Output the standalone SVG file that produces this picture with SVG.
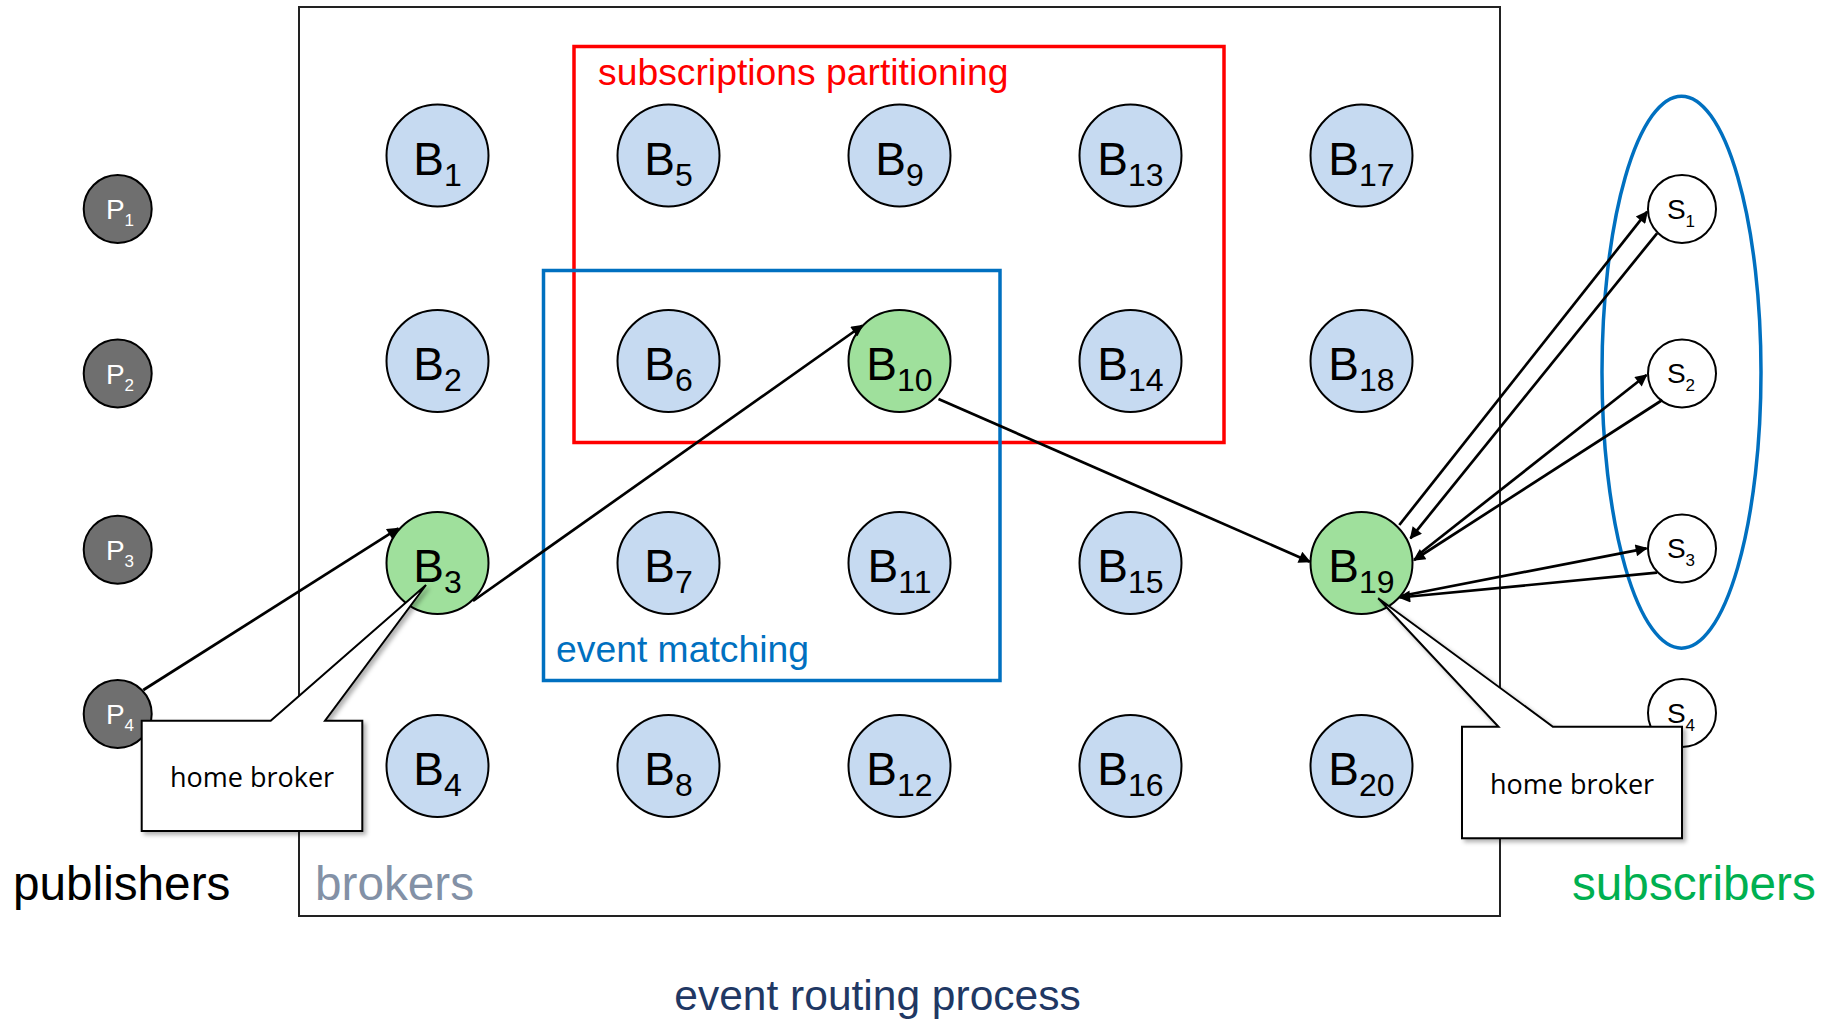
<svg xmlns="http://www.w3.org/2000/svg" width="1830" height="1023" viewBox="0 0 1830 1023">
<style>
text{font-family:"Liberation Sans",Arial,sans-serif}
.b circle{fill:#c6daf1;stroke:#000;stroke-width:2}
.g circle{fill:#9fe09c;stroke:#000;stroke-width:2}
.b text,.g text{font-size:46px;text-anchor:middle;fill:#000}
.sub{font-size:32px}
.p circle{fill:#6f6f6f;stroke:#000;stroke-width:2}
.p text{font-size:28px;text-anchor:middle;fill:#fff}
.s circle{fill:#fff;stroke:#000;stroke-width:2}
.s text{font-size:28px;text-anchor:middle;fill:#000}
.ps{font-size:17px}
.conn line{stroke:#000;stroke-width:2.7;marker-end:url(#ah)}
.call polygon{fill:#fff;stroke:#000;stroke-width:2;filter:url(#sh)}
.call text{font-family:"Open Sans","Liberation Sans",sans-serif;font-size:27px;text-anchor:middle;fill:#000}
.big{font-size:47.7px}
</style>
<defs>
<marker id="ah" viewBox="0 0 10 10" refX="9" refY="5" markerWidth="17" markerHeight="12" markerUnits="userSpaceOnUse" orient="auto">
<path d="M0,0 L10,5 L0,10 z" fill="#000"/>
</marker>
<filter id="sh" x="-10%" y="-10%" width="130%" height="130%">
<feDropShadow dx="3" dy="3" stdDeviation="2" flood-color="#000" flood-opacity="0.3"/>
</filter>
</defs>
<rect width="1830" height="1023" fill="#fff"/>
<g id="brokers-frame">
<rect x="299" y="7" width="1201" height="909" fill="none" stroke="#222" stroke-width="2"/>
<text class="big" x="315" y="900" fill="#8391a6">brokers</text>
</g>
<g id="subscriptions-partitioning">
<rect x="574" y="46.5" width="650" height="396" fill="none" stroke="#ff0000" stroke-width="3.5"/>
<text x="598" y="84.5" font-size="37.3" fill="#ff0000">subscriptions partitioning</text>
</g>
<g id="event-matching">
<rect x="543.5" y="270.5" width="456.5" height="410" fill="none" stroke="#0070c0" stroke-width="3.5"/>
<text x="556" y="662" font-size="37.3" fill="#0070c0">event matching</text>
</g>
<g id="subscriber-group">
<ellipse cx="1681.5" cy="372.2" rx="79.5" ry="276" fill="none" stroke="#0070c0" stroke-width="3.5"/>
</g>
<g id="labels">
<text class="big" x="13" y="900" fill="#000">publishers</text>
<text class="big" x="1572" y="900" fill="#00b050">subscribers</text>
<text x="877.5" y="1010" font-size="42.5" fill="#1f3864" text-anchor="middle">event routing process</text>
</g>
<g id="P1" class="p"><circle cx="117.7" cy="209" r="34"/><text x="120" y="219">P<tspan class="ps" dy="7">1</tspan></text></g>
<g id="P2" class="p"><circle cx="117.7" cy="373.5" r="34"/><text x="120" y="383.5">P<tspan class="ps" dy="7">2</tspan></text></g>
<g id="P3" class="p"><circle cx="117.7" cy="549.7" r="34"/><text x="120" y="559.7">P<tspan class="ps" dy="7">3</tspan></text></g>
<g id="P4" class="p"><circle cx="117.7" cy="714" r="34"/><text x="120" y="724">P<tspan class="ps" dy="7">4</tspan></text></g>
<g id="B1" class="b"><circle cx="437.5" cy="155.5" r="51"/><text x="437.5" y="174.5">B<tspan class="sub" dy="11">1</tspan></text></g>
<g id="B2" class="b"><circle cx="437.5" cy="361" r="51"/><text x="437.5" y="380">B<tspan class="sub" dy="11">2</tspan></text></g>
<g id="B3" class="g"><circle cx="437.5" cy="563" r="51"/><text x="437.5" y="582">B<tspan class="sub" dy="11">3</tspan></text></g>
<g id="B4" class="b"><circle cx="437.5" cy="766" r="51"/><text x="437.5" y="785">B<tspan class="sub" dy="11">4</tspan></text></g>
<g id="B5" class="b"><circle cx="668.5" cy="155.5" r="51"/><text x="668.5" y="174.5">B<tspan class="sub" dy="11">5</tspan></text></g>
<g id="B6" class="b"><circle cx="668.5" cy="361" r="51"/><text x="668.5" y="380">B<tspan class="sub" dy="11">6</tspan></text></g>
<g id="B7" class="b"><circle cx="668.5" cy="563" r="51"/><text x="668.5" y="582">B<tspan class="sub" dy="11">7</tspan></text></g>
<g id="B8" class="b"><circle cx="668.5" cy="766" r="51"/><text x="668.5" y="785">B<tspan class="sub" dy="11">8</tspan></text></g>
<g id="B9" class="b"><circle cx="899.5" cy="155.5" r="51"/><text x="899.5" y="174.5">B<tspan class="sub" dy="11">9</tspan></text></g>
<g id="B10" class="g"><circle cx="899.5" cy="361" r="51"/><text x="899.5" y="380">B<tspan class="sub" dy="11">10</tspan></text></g>
<g id="B11" class="b"><circle cx="899.5" cy="563" r="51"/><text x="899.5" y="582">B<tspan class="sub" dy="11">11</tspan></text></g>
<g id="B12" class="b"><circle cx="899.5" cy="766" r="51"/><text x="899.5" y="785">B<tspan class="sub" dy="11">12</tspan></text></g>
<g id="B13" class="b"><circle cx="1130.5" cy="155.5" r="51"/><text x="1130.5" y="174.5">B<tspan class="sub" dy="11">13</tspan></text></g>
<g id="B14" class="b"><circle cx="1130.5" cy="361" r="51"/><text x="1130.5" y="380">B<tspan class="sub" dy="11">14</tspan></text></g>
<g id="B15" class="b"><circle cx="1130.5" cy="563" r="51"/><text x="1130.5" y="582">B<tspan class="sub" dy="11">15</tspan></text></g>
<g id="B16" class="b"><circle cx="1130.5" cy="766" r="51"/><text x="1130.5" y="785">B<tspan class="sub" dy="11">16</tspan></text></g>
<g id="B17" class="b"><circle cx="1361.5" cy="155.5" r="51"/><text x="1361.5" y="174.5">B<tspan class="sub" dy="11">17</tspan></text></g>
<g id="B18" class="b"><circle cx="1361.5" cy="361" r="51"/><text x="1361.5" y="380">B<tspan class="sub" dy="11">18</tspan></text></g>
<g id="B19" class="g"><circle cx="1361.5" cy="563" r="51"/><text x="1361.5" y="582">B<tspan class="sub" dy="11">19</tspan></text></g>
<g id="B20" class="b"><circle cx="1361.5" cy="766" r="51"/><text x="1361.5" y="785">B<tspan class="sub" dy="11">20</tspan></text></g>
<g id="S1" class="s"><circle cx="1682" cy="209" r="34"/><text x="1681" y="218.5">S<tspan class="ps" dy="8">1</tspan></text></g>
<g id="S2" class="s"><circle cx="1682" cy="373.5" r="34"/><text x="1681" y="383">S<tspan class="ps" dy="8">2</tspan></text></g>
<g id="S3" class="s"><circle cx="1682" cy="548.5" r="34"/><text x="1681" y="558">S<tspan class="ps" dy="8">3</tspan></text></g>
<g id="S4" class="s"><circle cx="1682" cy="713" r="34"/><text x="1681" y="722.5">S<tspan class="ps" dy="8">4</tspan></text></g>
<g id="connectors" class="conn">
<line x1="143.3" y1="690" x2="398.3" y2="528.3"/>
<line x1="473" y1="601" x2="862.5" y2="325.5"/>
<line x1="938.5" y1="399" x2="1309.8" y2="561.7"/>
<line x1="1399.3" y1="525" x2="1647.2" y2="211.7"/>
<line x1="1657" y1="233.3" x2="1410.5" y2="538.3"/>
<line x1="1418" y1="555" x2="1646.5" y2="375"/>
<line x1="1662.3" y1="400" x2="1414" y2="560"/>
<line x1="1401" y1="596" x2="1646.5" y2="548.3"/>
<line x1="1657" y1="572.7" x2="1399.3" y2="597.5"/>
</g>
<g id="callout-publisher" class="call">
<polygon points="141.7,720.7 270.7,720.7 426,585 325,720.7 362.3,720.7 362.3,831 141.7,831"/>
<text x="252" y="787">home broker</text>
</g>
<g id="callout-subscriber" class="call">
<polygon points="1462,726.7 1498.5,726.7 1378.2,598.3 1552.9,726.7 1682,726.7 1682,838.3 1462,838.3"/>
<text x="1572" y="793.5">home broker</text>
</g>
</svg>
